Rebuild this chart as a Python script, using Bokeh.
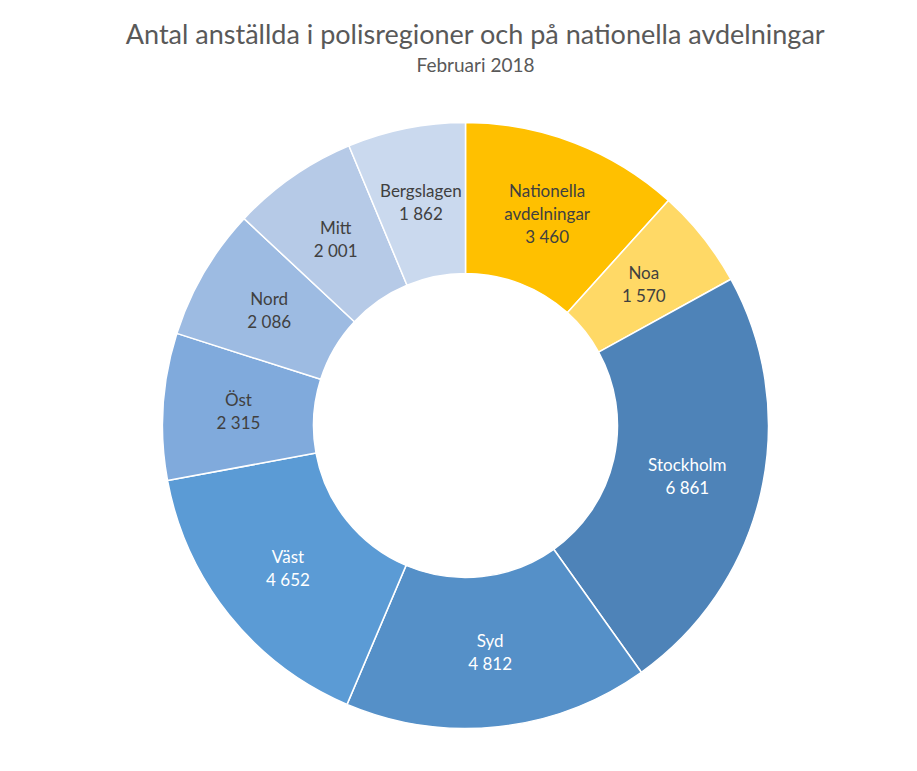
import math
from bokeh.plotting import figure
from bokeh.models import Range1d, ColumnDataSource
from bokeh.core.properties import value
from bokeh.embed import file_html
from bokeh.resources import INLINE

# ---- data ----
categories = ["Nationella\navdelningar", "Noa", "Stockholm", "Syd", "Väst",
              "Öst", "Nord", "Mitt", "Bergslagen"]
counts = [3460, 1570, 6861, 4812, 4652, 2315, 2086, 2001, 1862]
colors = ["#FFC000", "#FFD966", "#4E83B8", "#5590C8", "#5B9BD5",
          "#80AADC", "#9DBBE2", "#B6CAE7", "#CAD9EE"]
label_colors = ["#404040", "#404040", "#FFFFFF", "#FFFFFF", "#FFFFFF",
                "#404040", "#404040", "#404040", "#404040"]
title = "Antal anställda i polisregioner och på nationella avdelningar"
subtitle = "Februari 2018"

W, H = 901, 755
FONT = "Lato"

p = figure(width=W, height=H, output_backend="svg", toolbar_location=None,
           x_range=Range1d(0, W), y_range=Range1d(0, H), min_border=0)
p.axis.visible = False
p.grid.visible = False
p.outline_line_color = None
p.background_fill_color = "white"


def img(xi, yi):
    return xi, H - yi

cx, cy = img(465, 425)
r_in, r_out = 152, 303

total = sum(counts)
starts, ends = [], []
cum = 0
for c in counts:
    starts.append(math.pi / 2 - 2 * math.pi * cum / total)
    cum += c
    ends.append(math.pi / 2 - 2 * math.pi * cum / total)

src = ColumnDataSource(dict(start=starts, end=ends, color=colors))
p.annular_wedge(x=cx, y=cy, inner_radius=r_in, outer_radius=r_out,
                start_angle="start", end_angle="end", direction="clock",
                fill_color="color", line_color="white", line_width=1.5,
                source=src)

# labels
lx, ly, lt, lc, loff = [], [], [], [], []
r_mid = (r_in + r_out) / 2
for name, v, s, e, col in zip(categories, counts, starts, ends, label_colors):
    a = (s + e) / 2
    x = cx + r_mid * math.cos(a)
    y = cy + r_mid * math.sin(a)
    lines = name.split("\n") + [f"{v:,}".replace(",", " ")]
    n = len(lines)
    for i, t in enumerate(lines):
        lx.append(x)
        ly.append(y)
        lt.append(t)
        lc.append(col)
        loff.append((i - (n - 1) / 2) * 23)

p.text(x=lx, y=ly, text=lt, y_offset=loff, text_color=lc,
       text_font=value(FONT), text_font_size="17px",
       text_align="center", text_baseline="middle")

tx, ty = img(475, 33)
p.text(x=[tx], y=[ty], text=[title], text_color="#595959",
       text_font=value(FONT), text_font_size="27px",
       text_align="center", text_baseline="middle")
sx, sy = img(475, 64)
p.text(x=[sx], y=[sy], text=[subtitle], text_color="#595959",
       text_font=value(FONT), text_font_size="19px",
       text_align="center", text_baseline="middle")

open("out.html", "w").write(file_html(p, INLINE))
